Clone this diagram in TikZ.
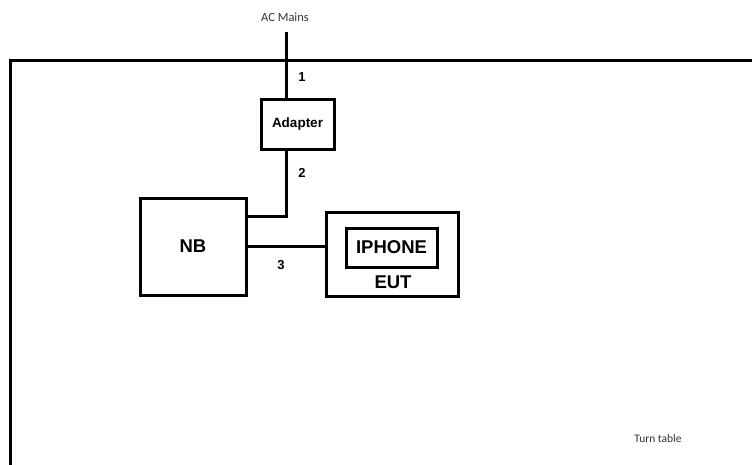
\documentclass[tikz,border=0pt]{standalone}
\usepackage{fontspec}
\setmainfont{Liberation Sans}
\newfontfamily\arialfont{Liberation Sans}
\newfontfamily\lightfont{Carlito}
\begin{document}
\begin{tikzpicture}[x=1pt,y=-1pt,
  box/.style={draw,line width=3pt,inner sep=0pt},
  bigtext/.style={font=\arialfont\bfseries\fontsize{18.5}{21}\selectfont},
  wire/.style={line width=3pt},
  num/.style={font=\arialfont\bfseries\fontsize{13}{15}\selectfont},
  lighttext/.style={font=\lightfont\fontsize{11.5}{13}\selectfont,text=black!80}]
\useasboundingbox (0,0) rectangle (752,464);
\draw[line width=3pt] (10,470) -- (10,60) -- (760,60);
\node[lighttext,font=\lightfont\fontsize{12.5}{14}\selectfont] (ac) at (285,17) {AC Mains};
\coordinate (acend) at (286,32);
\node[box,minimum width=73pt,minimum height=50pt,font=\arialfont\bfseries\fontsize{13.5}{15}\selectfont] (adapter) at (297.5,124) {Adapter};
\node[box,bigtext,minimum width=106pt,minimum height=97pt] (nb) at (193,246.5) {NB};
\node[box,minimum width=132pt,minimum height=84pt] (eut) at (392,254) {};
\node[box,bigtext,minimum width=91pt,minimum height=39pt] (iphone) at (391.5,247.5) {IPHONE};
\node[bigtext] (eutlabel) at (393,282) {EUT};
\draw[wire] (acend) -- (adapter.north -| acend);
\draw[wire] (adapter.south -| acend) |- (nb.east |- 0,216);
\draw[wire] (nb.east |- 0,246) -- (eut.west |- 0,246);
\node[num] (n1) at (302,77) {1};
\node[num] (n2) at (302,173) {2};
\node[num] (n3) at (281,265) {3};
\node[lighttext] (tt) at (658,439) {Turn table};
\end{tikzpicture}
\end{document}
